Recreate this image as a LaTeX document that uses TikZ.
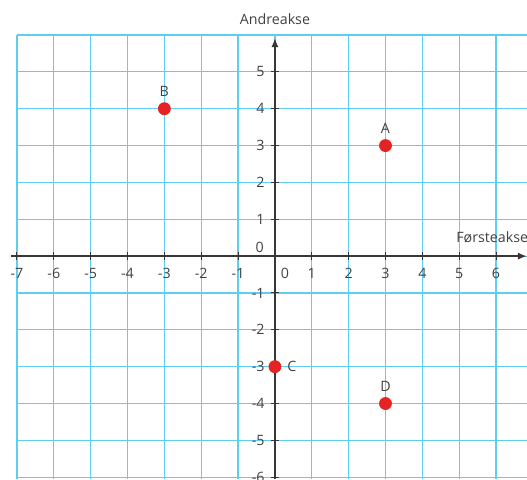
\documentclass[tikz,border=0pt]{standalone}
\usepackage{fontspec}
\setmainfont{Open Sans}
\usetikzlibrary{arrows.meta}
\definecolor{gridc}{RGB}{95,205,240}
\definecolor{axisc}{RGB}{55,55,55}
\definecolor{dotc}{RGB}{228,36,36}
\definecolor{txtc}{RGB}{65,65,65}
\begin{document}
\begin{tikzpicture}[x=1cm,y=1cm,
  gridline/.style={gridc, line width=0.95pt},
  axisline/.style={axisc, line width=1.4pt, -{Latex[length=7pt,width=5.5pt]}},
  tickmark/.style={axisc, line width=0.8pt},
  ptdot/.style={circle, fill=dotc, inner sep=0pt, minimum size=0.35cm},
  lbl/.style={font=\fontsize{11}{13}\selectfont, text=txtc, inner sep=1pt}
]
\useasboundingbox (-7.46,-6.05) rectangle (6.84,6.95);
% grid
\foreach \x in {-7,...,6} \draw[gridline] (\x,-6.05) -- (\x,6);
\foreach \y in {-6,...,6} \draw[gridline] (-7,\y) -- (6.84,\y);
% axes
\coordinate (xs) at (-7.15,0);
\coordinate (xe) at (6.84,0);
\coordinate (ys) at (0,-6.05);
\coordinate (ye) at (0,5.92);
\draw[axisline] (xs) -- (xe);
\draw[axisline] (ys) -- (ye);
% ticks
\foreach \x in {-7,...,6} \draw[tickmark] (\x,-0.11) -- (\x,0.11);
\foreach \y in {-6,...,5} \draw[tickmark] (-0.11,\y) -- (0.11,\y);
% x labels
\foreach \x in {-7,...,-1} \node[lbl] at (\x,-0.46) {-\the\numexpr-\x\relax};
\foreach \x in {1,...,6} \node[lbl] at (\x,-0.46) {\x};
\node[lbl] (x0) at (0.27,-0.46) {0};
% y labels
\foreach \y in {1,...,5} \node[lbl, anchor=east] at (-0.24,\y) {\y};
\foreach \y in {-6,...,-1} \node[lbl, anchor=east] at (-0.24,\y) {-\the\numexpr-\y\relax};
\node[lbl] (y0) at (-0.41,0.24) {0};
% axis names
\node[lbl] (ylab) at (0,6.42) {Andreakse};
\node[lbl, anchor=west] (xlab) at (4.88,0.5) {Førsteakse};
% points
\node[ptdot] (A) at (3,3) {};
\node[ptdot] (B) at (-3,4) {};
\node[ptdot] (C) at (0,-3) {};
\node[ptdot] (D) at (3,-4) {};
\node[lbl] (lA) at (3,3.46) {A};
\node[lbl] (lB) at (-3,4.46) {B};
\node[lbl] (lC) at (0.46,-3) {C};
\node[lbl] (lD) at (3,-3.54) {D};
\end{tikzpicture}
\end{document}
